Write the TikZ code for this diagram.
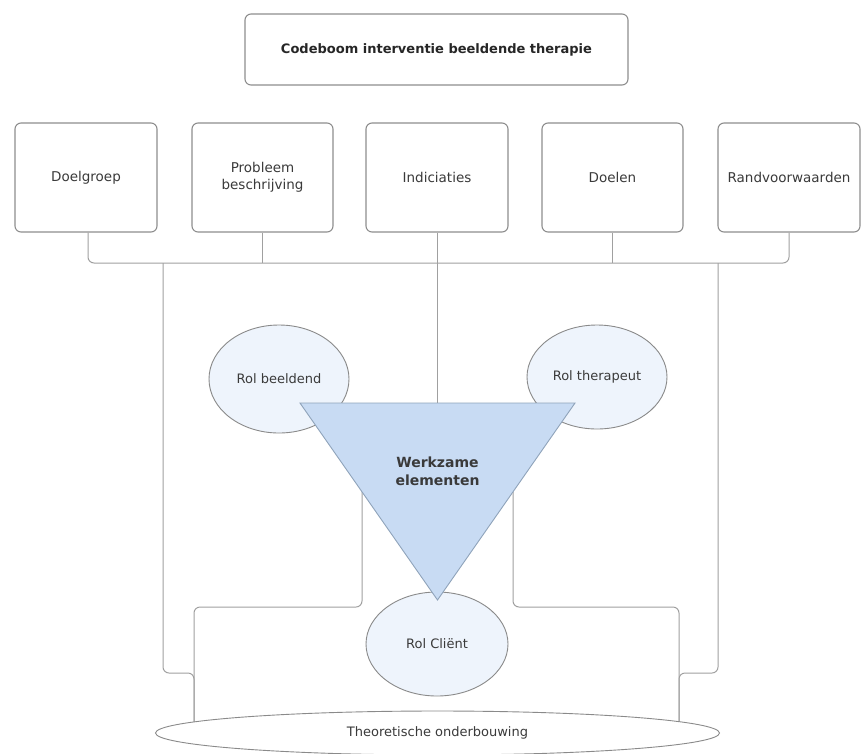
\documentclass[tikz,border=0pt]{standalone}
\usepackage{fontspec}
\setmainfont{DejaVu Sans}
\usetikzlibrary{shapes.geometric,calc}
\definecolor{linegray}{HTML}{A0A0A0}
\definecolor{boxgray}{HTML}{8E8E8E}
\definecolor{txt}{HTML}{3A3A3A}
\definecolor{ellfill}{HTML}{EEF4FC}
\definecolor{elldraw}{HTML}{8A8A8A}
\definecolor{trifill}{HTML}{C8DBF3}
\definecolor{tridraw}{HTML}{8FA3BA}
\begin{document}
\begin{tikzpicture}[x=1pt,y=-1pt,
  box/.style={draw=boxgray, line width=1.1pt, rounded corners=6pt, fill=white,
    align=center, text=txt, font=\fontsize{13.5}{17}\selectfont, inner sep=0pt,
    minimum height=109pt},
  conn/.style={draw=linegray, line width=1pt, rounded corners=6pt},
  ell/.style={ellipse, draw=elldraw, line width=0.9pt, fill=ellfill, text=txt,
    font=\fontsize{13}{16}\selectfont, inner sep=0pt},
  tri/.style={draw=tridraw, line width=0.9pt, fill=trifill}
]
\useasboundingbox (0,0) rectangle (861,753);

% title and top boxes
\node[box, minimum width=383pt, minimum height=71pt, font=\bfseries\fontsize{13}{16}\selectfont, text=black!85]
  (title) at (436.5,49.5) {Codeboom interventie beeldende therapie};
\node[box, minimum width=142pt] (doel) at (86,177.5) {Doelgroep};
\node[box, minimum width=141pt] (prob) at (262.5,177.5) {Probleem\\beschrijving};
\node[box, minimum width=142pt] (ind) at (437,177.5) {Indiciaties};
\node[box, minimum width=141pt] (doelen) at (612.5,177.5) {Doelen};
\node[box, minimum width=142pt] (rand) at (789,177.5) {Randvoorwaarden};

% coordinates
\coordinate (bus) at (0,263);
\coordinate (tl) at (300,403);
\coordinate (tr) at (575,403);
\coordinate (tip) at (437.5,600);
\coordinate (tritop) at (437,403);
\coordinate (dropL) at (163,263);
\coordinate (dropR) at (718,263);
\coordinate (innL) at (362,492);
\coordinate (innR) at (513,492);
\coordinate (endL) at (194,730);
\coordinate (endR) at (679,730);

% bus and connectors
\draw[conn] (doel.south -| 88,0) |- (rand.south |- bus) -- (rand.south);
\draw[conn] (prob.south) -- (prob.south |- bus);
\draw[conn] (doelen.south) -- (doelen.south |- bus);
\draw[conn] (ind.south) -- (tritop);
\draw[conn] (dropL) -- (163,673) -- (194,673) -- (endL);
\draw[conn] (dropR) -- (718,673) -- (679,673) -- (endR);
\draw[conn] (innL) -- (362,607) -- (194,607) -- (endL);
\draw[conn] (innR) -- (513,607) -- (679,607) -- (endR);

% role ellipses
\node[ell, minimum width=140pt, minimum height=108pt] (rb) at (279,379) {Rol beeldend};
\node[ell, minimum width=140pt, minimum height=104pt] (rt) at (597,377) {Rol therapeut};
\node[ell, minimum width=142pt, minimum height=104pt] (rc) at (437,644) {Rol Cliënt};

% triangle
\draw[tri] (tl) -- (tr) -- (tip) -- cycle;
\node[align=center, text=txt, font=\bfseries\fontsize{14}{18}\selectfont] (we) at (437.5,471) {Werkzame\\elementen};

% theory base
\node[ell, fill=white, minimum width=564pt, minimum height=44pt] (theo) at (437.5,733) {Theoretische onderbouwing};
\end{tikzpicture}
\end{document}
